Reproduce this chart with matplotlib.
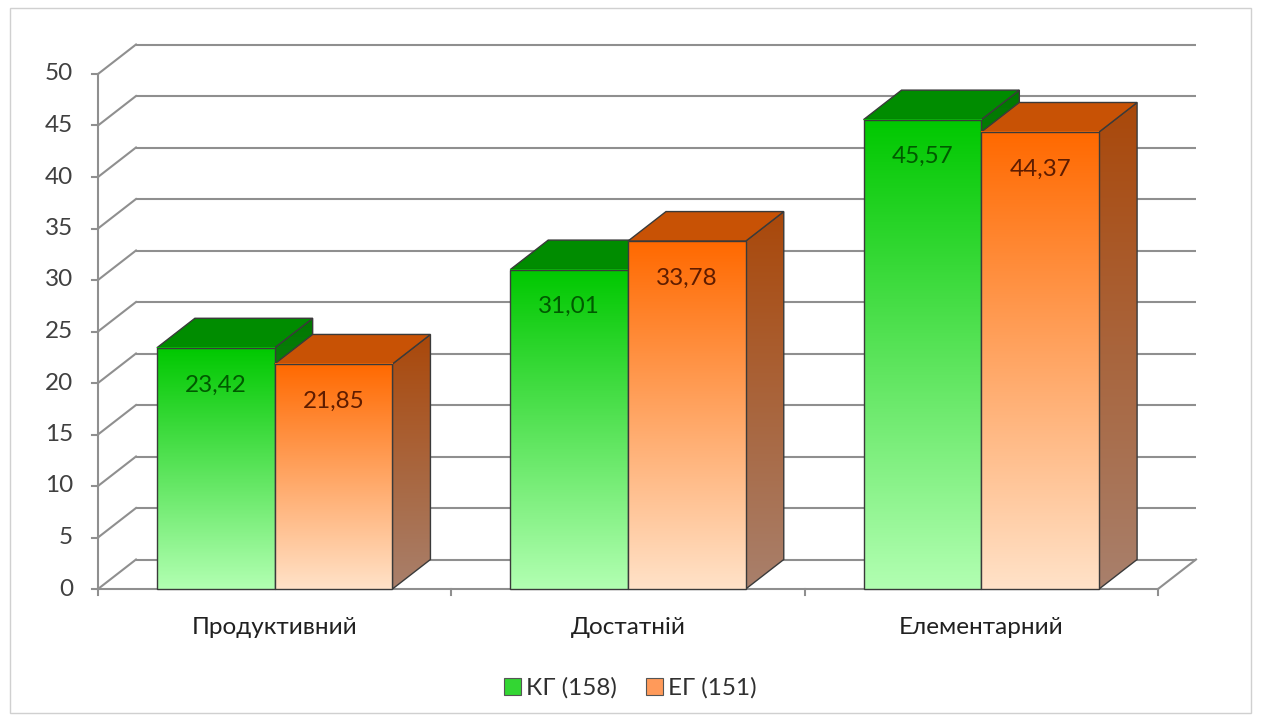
import numpy as np
import matplotlib
matplotlib.use('Agg')
import matplotlib.pyplot as plt
from matplotlib.patches import Polygon, Rectangle, Patch

categories = ['Продуктивний', 'Достатній', 'Елементарний']
kg_values = [23.42, 31.01, 45.57]
eg_values = [21.85, 33.78, 44.37]
series_labels = ['КГ (158)', 'ЕГ (151)']
y_ticks = [0, 5, 10, 15, 20, 25, 30, 35, 40, 45, 50]

FONT = ['Lato', 'DejaVu Sans']
plt.rcParams['font.family'] = FONT
FS = 17.5

W, H = 1261, 722
fig = plt.figure(figsize=(W / 100, H / 100), dpi=100)
ax = fig.add_axes([0, 0, 1, 1])

# pixel mapping of the chart plane
px0 = 98.0          # x pixel of left edge of the plot (category -0.5)
px_per_cat = 353.33
py0 = 589.0         # y pixel of value 0
px_per_val = 10.3
ax.set_xlim(-0.5 - px0 / px_per_cat, -0.5 + (W - px0) / px_per_cat)
ax.set_ylim(-(H - py0) / px_per_val, py0 / px_per_val)
ax.axis('off')

dx = 38.0 / px_per_cat
dy = 29.5 / px_per_val
xL, xR = -0.5, len(categories) - 0.5
grid_c = '#8f8f8f'

# back wall gridlines and left wall diagonals
for v in y_ticks:
    ax.plot([xL + dx, xR + dx], [v + dy, v + dy], color=grid_c, lw=1.5, zorder=1,
            solid_capstyle='butt')
    ax.plot([xL, xL + dx], [v, v + dy], color=grid_c, lw=1.5, zorder=1)
    ax.plot([xL - 6 / px_per_cat, xL], [v, v], color=grid_c, lw=1.5, zorder=1)
    ax.text(xL - 25 / px_per_cat, v, str(v), ha='right', va='center',
            fontsize=FS, color='#404040')
# floor
ax.plot([xL, xR], [0, 0], color=grid_c, lw=1.5, zorder=1)
ax.plot([xR, xR + dx], [0, dy], color=grid_c, lw=1.5, zorder=1)
ax.plot([xL, xL], [0, y_ticks[-1]], color=grid_c, lw=1.5, zorder=1)
for k in range(len(categories) + 1):
    xb = xL + k
    ax.plot([xb, xb], [0, -6 / px_per_val], color=grid_c, lw=1.5, zorder=1)


def grad(c_top, c_bot, n=256):
    t = np.linspace(0, 1, n)[:, None]
    a = np.array(c_top) / 255.0
    b = np.array(c_bot) / 255.0
    return (a * (1 - t) + b * t)[:, None, :]


edge = '#3a3a3a'
bw = 1.0 / 3.0
styles = [
    dict(front=((0, 200, 0), (178, 255, 178)), top=(0, 140, 0),
         side=((0, 120, 0), (60, 150, 60)), label='#005a00'),
    dict(front=((255, 105, 0), (255, 226, 200)), top=(200, 82, 5),
         side=((170, 72, 10), (168, 128, 108)), label='#5e1c00'),
]
z = 2
for i in range(len(categories)):
    for s, vals in enumerate([kg_values, eg_values]):
        v = vals[i]
        st = styles[s]
        x0 = i - bw + s * bw
        x1 = x0 + bw
        # side face
        side = Polygon([(x1, 0), (x1 + dx, dy), (x1 + dx, v + dy), (x1, v)],
                       closed=True, facecolor='none', edgecolor=edge, lw=1, zorder=z + 0.5)
        im = ax.imshow(grad(*st['side']), extent=(x1, x1 + dx, 0, v + dy),
                       aspect='auto', origin='upper', zorder=z, interpolation='bilinear')
        ax.add_patch(side)
        im.set_clip_path(side)
        # top face
        top = Polygon([(x0, v), (x0 + dx, v + dy), (x1 + dx, v + dy), (x1, v)],
                      closed=True, facecolor=np.array(st['top']) / 255.0,
                      edgecolor=edge, lw=1, zorder=z + 0.6)
        ax.add_patch(top)
        # front face
        ax.imshow(grad(*st['front']), extent=(x0, x1, 0, v), aspect='auto',
                  origin='upper', zorder=z + 0.7, interpolation='bilinear')
        ax.add_patch(Rectangle((x0, 0), bw, v, facecolor='none', edgecolor=edge,
                               lw=1, zorder=z + 0.8))
        ax.text((x0 + x1) / 2, v - 3.6, f'{v:.2f}'.replace('.', ','), ha='center',
                va='center', fontsize=FS, color=st['label'], zorder=z + 0.9)
        z += 1

for i, c in enumerate(categories):
    ax.text(i, -38 / px_per_val, c, ha='center', va='center', fontsize=FS,
            color='#202020')

handles = [Patch(facecolor='#33d633', edgecolor='#555555', lw=0.8),
           Patch(facecolor='#ff9a5a', edgecolor='#555555', lw=0.8)]
fig.legend(handles, series_labels, loc='center', bbox_to_anchor=(0.5, 1 - 688 / H),
           ncol=2, frameon=False, fontsize=FS, handlelength=0.7, handleheight=0.7,
           handletextpad=0.2, columnspacing=1.2, labelcolor='#303030')

fig.add_artist(Rectangle((10 / W, 1 - 713 / H), 1241 / W, 705 / H,
                         transform=fig.transFigure, facecolor='none',
                         edgecolor='#d0d0d0', lw=1))

fig.savefig('out.png', dpi=100)
